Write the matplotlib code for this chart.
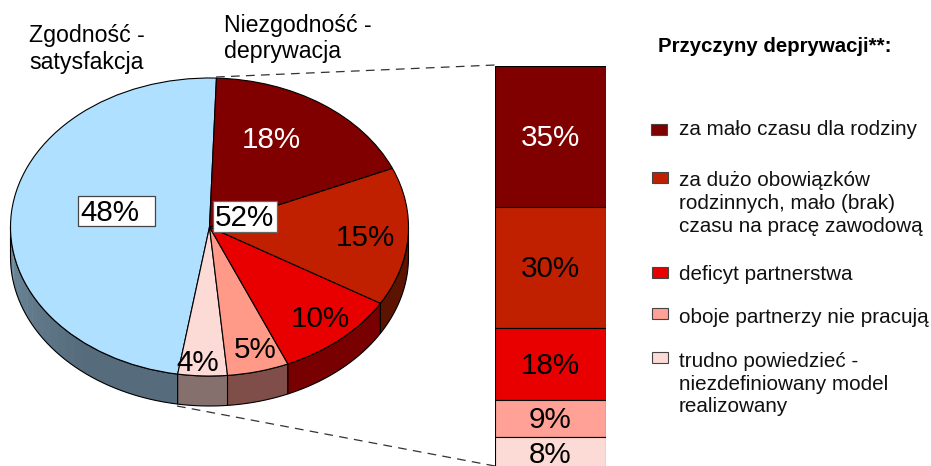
import numpy as np
import matplotlib
matplotlib.use("Agg")
import matplotlib.pyplot as plt
from matplotlib.colors import to_rgb
from matplotlib.patches import Polygon, Rectangle

plt.rcParams["font.family"] = ["Liberation Sans", "DejaVu Sans"]

W, H = 931, 466

# dane - wykres kołowy (od góry, przeciwnie do zegara)
pie_values = [48, 4, 5, 10, 15, 18]
pie_labels = ["48%", "4%", "5%", "10%", "15%", "18%"]
pie_colors = ["#B0E0FF", "#FCDAD5", "#FF9988", "#E80000", "#C02000", "#800000"]
wall_colors = ["#566C7C", "#85706E", "#804E48", "#780000", "#5C1400", "#400000"]
wall_light = "#6E8A9C"

# dane - słupek
bar_values = [35, 30, 18, 9, 8]
bar_labels = ["35%", "30%", "18%", "9%", "8%"]
bar_colors = ["#800000", "#C02000", "#E80000", "#FFA196", "#FCDAD5"]
bar_text_colors = ["white", "black", "black", "black", "black"]

legend_labels = [
    "za mało czasu dla rodziny",
    "za dużo obowiązków\nrodzinnych, mało (brak)\nczasu na pracę zawodową",
    "deficyt partnerstwa",
    "oboje partnerzy nie pracują",
    "trudno powiedzieć -\nniezdefiniowany model\nrealizowany",
]
legend_title = "Przyczyny deprywacji**:"

# pozycje w pikselach
pie_cx, pie_cy, pie_rx, pie_ry, pie_depth = 209.5, 227, 199, 149, 30
start_angle = 88
pie_label_xy = [(110, 213), (198, 363), (255, 350), (320, 319), (365, 238), (271, 140)]
bar_left, bar_right, bar_top, bar_bottom = 495, 606, 66, 469
bar_label_y = [138, 269, 366, 420, 455]
swatch_xy = [(651, 124), (652, 172), (652, 267), (652, 308), (652, 352)]
legend_text_y = [128, 179, 273, 316, 360]


def axes_px(left, top, right, bottom):
    return fig.add_axes([left / W, 1 - bottom / H, (right - left) / W, (bottom - top) / H])


fig = plt.figure(figsize=(W / 100, H / 100), dpi=100, facecolor="white")

# ----- kołowy -----
ax_pie = axes_px(pie_cx - pie_rx, pie_cy - pie_ry, pie_cx + pie_rx, pie_cy + pie_ry)
wedges, _ = ax_pie.pie(pie_values, colors=pie_colors, startangle=start_angle, radius=1,
                       counterclock=True, wedgeprops=dict(edgecolor="black", linewidth=0.8))
ax_pie.set_aspect("auto")
ax_pie.set_xlim(-1, 1)
ax_pie.set_ylim(-1, 1)
for w in wedges:
    w.set_clip_on(False)
    w.set_zorder(3)

# ścianka boczna
d = pie_depth / pie_ry
edges = start_angle + np.cumsum([0] + pie_values) * 3.6


def wall_poly(lo, hi):
    t = np.radians(np.linspace(lo, hi, 40))
    top = np.column_stack([np.cos(t), np.sin(t)])
    low = np.column_stack([np.cos(t[::-1]), np.sin(t[::-1]) - d])
    return np.vstack([top, low])


for i in range(len(pie_values)):
    a0, a1 = edges[i], edges[i + 1]
    # tylko dolna połowa elipsy jest widoczna
    for lo, hi in [(a0, a1), (a0 - 360, a1 - 360)]:
        lo2, hi2 = max(lo, 180), min(hi, 360)
        if hi2 <= lo2:
            continue
        if i == 0:
            # niebieska ścianka jaśnieje w lewo
            steps = np.linspace(lo2, hi2, 25)
            c0, c1 = np.array(to_rgb(wall_light)), np.array(to_rgb(wall_colors[0]))
            for k in range(len(steps) - 1):
                f = min(1, k / (len(steps) - 2) * 1.6)
                col = c0 + (c1 - c0) * f
                ax_pie.add_patch(Polygon(wall_poly(steps[k], steps[k + 1] + 0.3), closed=True,
                                         facecolor=col, edgecolor="none", clip_on=False, zorder=1.5))
            ax_pie.add_patch(Polygon(wall_poly(lo2, hi2), closed=True, facecolor="none",
                                     edgecolor="black", linewidth=0.8, clip_on=False, zorder=2))
        else:
            ax_pie.add_patch(Polygon(wall_poly(lo2, hi2), closed=True, facecolor=wall_colors[i],
                                     edgecolor="black", linewidth=0.8, clip_on=False, zorder=2))

# ----- słupek -----
ax_bar = axes_px(bar_left, bar_top, bar_right, bar_bottom)
bottom = 0
for val, col in zip(bar_values, bar_colors):
    ax_bar.bar(0, val, width=1, bottom=bottom, color=col, edgecolor="black", linewidth=0.8)
    bottom += val
ax_bar.set_xlim(-0.5, 0.5)
ax_bar.set_ylim(100, 0)
ax_bar.axis("off")

# ----- warstwa tekstu -----
ov = fig.add_axes([0, 0, 1, 1])
ov.set_xlim(0, W)
ov.set_ylim(H, 0)
ov.axis("off")
ov.patch.set_alpha(0)

ov.plot([216, 495], [77, 65], color="#333333", lw=0.9, ls=(0, (7, 5)))
ov.plot([177, 495], [406, 466], color="#333333", lw=0.9, ls=(0, (7, 5)))

ov.add_patch(Rectangle((78, 196), 77, 30, facecolor="white", edgecolor="#444444", lw=0.9))
ov.add_patch(Rectangle((213, 201), 64, 31, facecolor="white", edgecolor="#666666", lw=0.9))

for lab, (x, y) in zip(pie_labels, pie_label_xy):
    ov.text(x, y, lab, fontsize=21.3, ha="center", va="center",
            color="white" if lab == "18%" else "black")
ov.text(244.5, 218, "52%", fontsize=21.3, ha="center", va="center")

for lab, col, y in zip(bar_labels, bar_text_colors, bar_label_y):
    ov.text(550.5, y, lab, fontsize=21.3, ha="center", va="center", color=col)

ov.text(87, 49, "Zgodność -\nsatysfakcja", fontsize=16.7, ha="center", va="center", linespacing=1.2)
ov.text(224, 38.5, "Niezgodność -\ndeprywacja", fontsize=16.7, ha="left", va="center", linespacing=1.16)

ov.text(658, 46, legend_title, fontsize=14.7, fontweight="bold", ha="left", va="center")
for lab, col, (sx, sy), ty in zip(legend_labels, bar_colors, swatch_xy, legend_text_y):
    ov.add_patch(Rectangle((sx, sy), 16, 10.5, facecolor=col, edgecolor="#444444", lw=0.8))
    ov.text(679, ty - 8, lab, fontsize=14.9, ha="left", va="top", linespacing=1.25, color="#111111")

fig.savefig("out.png", dpi=100)
